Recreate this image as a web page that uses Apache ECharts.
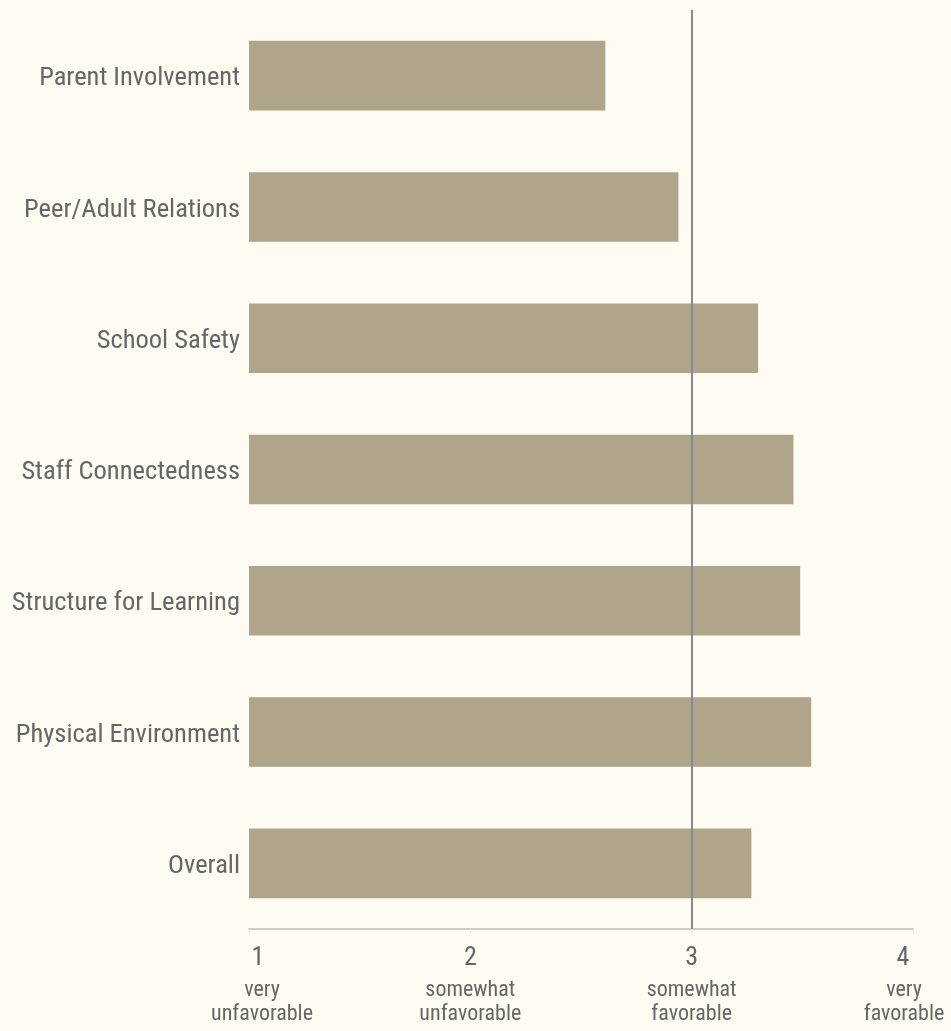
<!DOCTYPE html>
<html>
<head>
<meta charset="utf-8">
<script src="https://cdn.jsdelivr.net/npm/echarts@6/dist/echarts.min.js"></script>
<style>
html,body{margin:0;padding:0;background:#fefbf2;}
#chart{width:951px;height:1031px;}
</style>
</head>
<body>
<div id="chart"></div>
<script>
var categories = ['Parent Involvement','Peer/Adult Relations','School Safety','Staff Connectedness','Structure for Learning','Physical Environment','Overall'];
var values = [2.61, 2.94, 3.30, 3.46, 3.49, 3.54, 3.27];
var tickValues = [1, 2, 3, 4];
var tickSubLabels = ['very\nunfavorable','somewhat\nunfavorable','somewhat\nfavorable','very\nfavorable'];
var referenceValue = 3;

var FONT = "'Roboto Condensed','Liberation Sans Narrow','DejaVu Sans Condensed',Roboto,sans-serif";
var chart = echarts.init(document.getElementById('chart'));
chart.setOption({
  backgroundColor: '#fefbf2',
  animation: false,
  grid: {left: 249, right: 38, top: 10, bottom: 102, containLabel: false, outerBoundsMode: 'none'},
  xAxis: {
    type: 'value', min: 1, max: 4, interval: 1,
    axisLine: {show: true, lineStyle: {color: '#bbbbbb', width: 1.5}},
    axisTick: {show: true, length: 5, lineStyle: {color: '#e8eaee'}},
    splitLine: {show: false},
    axisLabel: {
      margin: 9,
      fontFamily: FONT,
      formatter: function (v) {
        var i = tickValues.indexOf(v);
        if (i < 0) return '';
        var subs = tickSubLabels[i].split('\n');
        var n = 'n', s = 's';
        if (i === 0) { n = 'nL'; s = 'sL'; }
        if (i === tickValues.length - 1) { n = 'nR'; s = 'sR'; }
        return '{' + n + '|' + v + '}\n{' + s + '|' + subs[0] + '}\n{' + s + '|' + subs[1] + '}';
      },
      rich: {
        n: {fontSize: 26, lineHeight: 40, color: '#666666', fontFamily: FONT},
        nL: {fontSize: 26, lineHeight: 40, color: '#666666', fontFamily: FONT, padding: [0,0,0,18]},
        nR: {fontSize: 26, lineHeight: 40, color: '#666666', fontFamily: FONT, padding: [0,20,0,0]},
        s: {fontSize: 22, lineHeight: 24, color: '#666666', fontFamily: FONT},
        sL: {fontSize: 22, lineHeight: 24, color: '#666666', fontFamily: FONT, padding: [0,0,0,26]},
        sR: {fontSize: 22, lineHeight: 24, color: '#666666', fontFamily: FONT, padding: [0,18,0,0]}
      }
    }
  },
  yAxis: {
    type: 'category', inverse: true, data: categories,
    axisLine: {show: false}, axisTick: {show: false},
    axisLabel: {
      margin: 9, color: '#666666', fontFamily: FONT,
      formatter: function (v) { return '{c|' + v + '}'; },
      rich: {c: {fontSize: 26.5, color: '#666666', fontFamily: FONT, padding: [6,0,0,0]}}
    }
  },
  series: [{
    type: 'bar',
    data: values,
    barWidth: '53%',
    itemStyle: {color: '#aea58b'},
    markLine: {
      silent: true, symbol: 'none',
      label: {show: false},
      lineStyle: {color: '#8a8a8a', width: 2, type: 'solid'},
      data: [{xAxis: referenceValue}]
    }
  }]
});
</script>
</body>
</html>
